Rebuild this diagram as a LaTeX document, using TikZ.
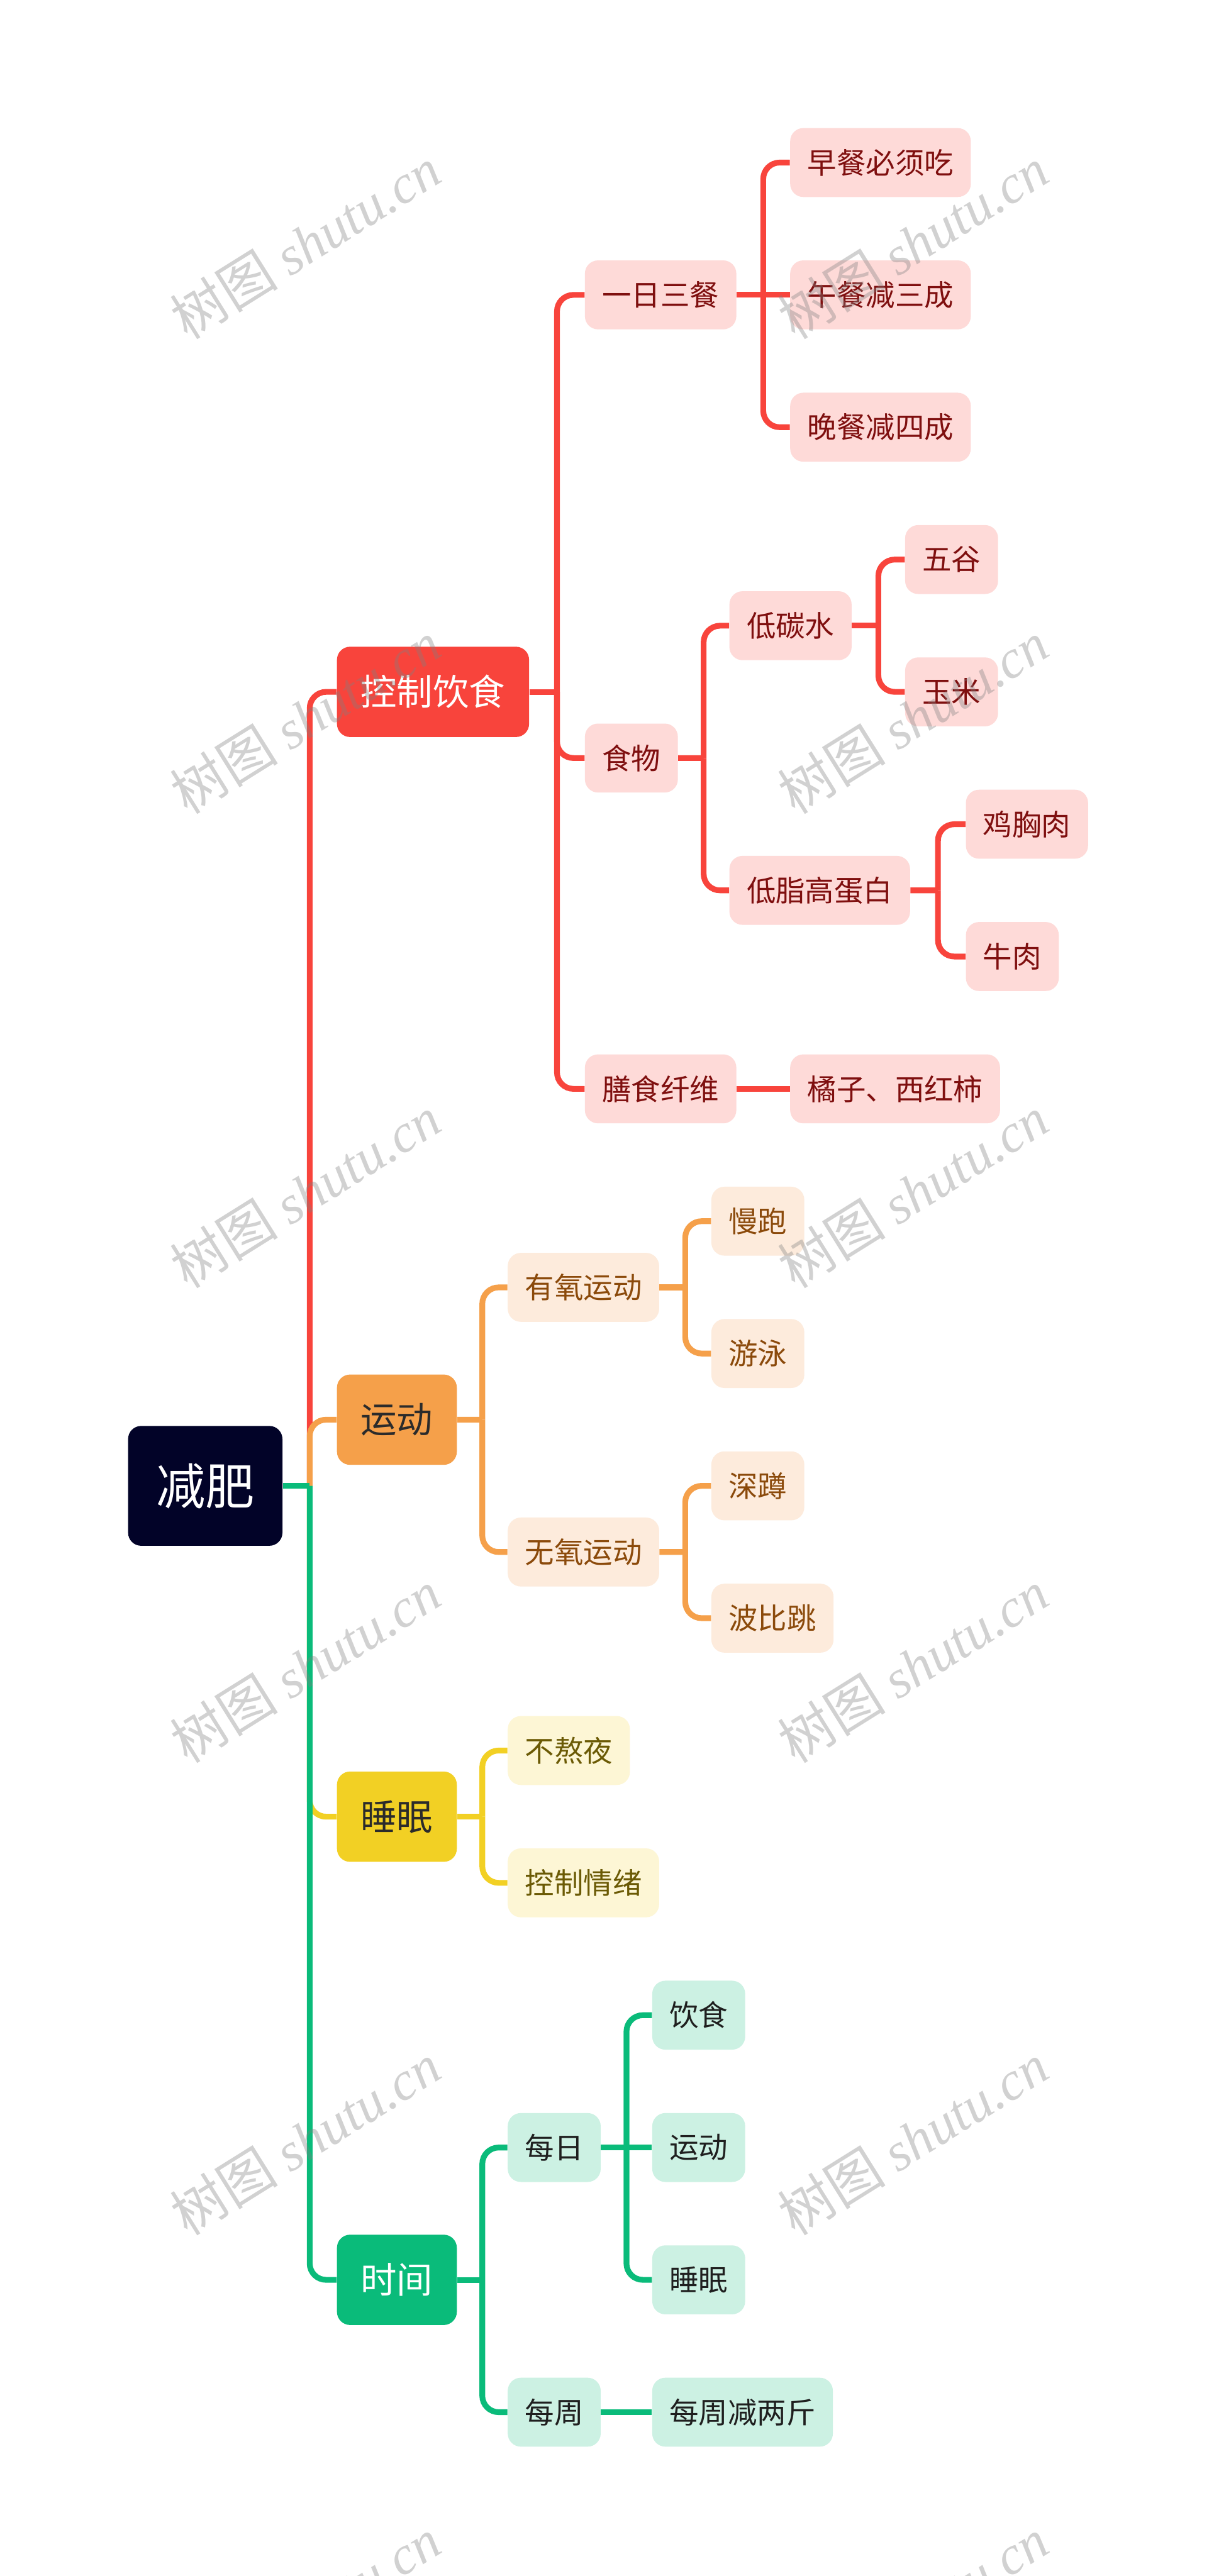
\documentclass[tikz,border=0pt]{standalone}
\usepackage{fontspec}
\setmainfont{Noto Sans CJK SC}
\newfontfamily\wmcjk{Noto Sans CJK SC}
\newfontfamily\wmlat{Liberation Serif}
\usetikzlibrary{calc}
\definecolor{rootc}{HTML}{020328}
\definecolor{redc}{HTML}{F8443C}
\definecolor{redl}{HTML}{FEDAD8}
\definecolor{redt}{HTML}{7F0F0F}
\definecolor{orgc}{HTML}{F5A04A}
\definecolor{orgl}{HTML}{FDEBDC}
\definecolor{orgt}{HTML}{8B4A0B}
\definecolor{yelc}{HTML}{F2D024}
\definecolor{yell}{HTML}{FDF6D5}
\definecolor{yelt}{HTML}{6B5A05}
\definecolor{grnc}{HTML}{0ABB7A}
\definecolor{grnl}{HTML}{CCF1E3}
\definecolor{grnt}{HTML}{1F1F1F}
\definecolor{darkt}{HTML}{2B2B2B}
\tikzset{
  rootbox/.style={fill=rootc, rounded corners=8pt, text=white, font=\fontsize{30}{36}\selectfont, minimum width=94pt, minimum height=73pt, inner sep=0pt},
  topbox/.style={rounded corners=8pt, font=\fontsize{22}{26}\selectfont, minimum height=55pt, inner xsep=14.5pt, inner ysep=0pt, anchor=west},
  subbox/.style={rounded corners=8pt, font=\fontsize{17.8}{21}\selectfont, minimum height=42pt, inner xsep=10.5pt, inner ysep=0pt, anchor=west},
  rsub/.style={subbox, fill=redl, text=redt},
  osub/.style={subbox, fill=orgl, text=orgt},
  ysub/.style={subbox, fill=yell, text=yelt},
  gsub/.style={subbox, fill=grnl, text=grnt},
  conn/.style={line width=3.5pt, rounded corners=10pt},
  wm/.style={text=gray, opacity=0.36, rotate=32, font=\fontsize{33}{36}\selectfont}
}
\begin{document}
\begin{tikzpicture}[x=1pt,y=-1pt]
\useasboundingbox (0,0) rectangle (739,1569);
\fill[white] (0,0) rectangle (739,1569);
% root
\node[rootbox] (root) at (125,905) {减肥};
% level 1
\node[topbox, fill=redc, text=white] (c1) at (205,421.4) {控制饮食};
\node[topbox, fill=orgc, text=darkt] (c2) at (205,864.7) {运动};
\node[topbox, fill=yelc, text=darkt] (c3) at (205,1106.5) {睡眠};
\node[topbox, fill=grnc, text=white] (c4) at (205,1388.6) {时间};
% red branch
\node[rsub] (a1) at (356,179.6) {一日三餐};
\node[rsub] (a2) at (356,461.7) {食物};
\node[rsub] (a3) at (356,663.2) {膳食纤维};
\node[rsub] (b1) at (481,99) {早餐必须吃};
\node[rsub] (b2) at (481,179.6) {午餐减三成};
\node[rsub] (b3) at (481,260.2) {晚餐减四成};
\node[rsub] (b4) at (444,381.1) {低碳水};
\node[rsub] (b5) at (444,542.3) {低脂高蛋白};
\node[rsub] (b6) at (481,663.2) {橘子、西红柿};
\node[rsub] (d1) at (551,340.8) {五谷};
\node[rsub] (d2) at (551,421.4) {玉米};
\node[rsub] (d3) at (588,502) {鸡胸肉};
\node[rsub] (d4) at (588,582.6) {牛肉};
% orange branch
\node[osub] (o1) at (309,784.1) {有氧运动};
\node[osub] (o2) at (309,945.3) {无氧运动};
\node[osub] (p1) at (433,743.8) {慢跑};
\node[osub] (p2) at (433,824.4) {游泳};
\node[osub] (p3) at (433,905) {深蹲};
\node[osub] (p4) at (433,985.6) {波比跳};
% yellow branch
\node[ysub] (y1) at (309,1066.2) {不熬夜};
\node[ysub] (y2) at (309,1146.8) {控制情绪};
% green branch
\node[gsub] (g1) at (309,1308) {每日};
\node[gsub] (g2) at (309,1469.2) {每周};
\node[gsub] (h1) at (397,1227.4) {饮食};
\node[gsub] (h2) at (397,1308) {运动};
\node[gsub] (h3) at (397,1388.6) {睡眠};
\node[gsub] (h4) at (397,1469.2) {每周减两斤};
% junctions
\coordinate (jr) at ($(root.east)!0.5!(c1.west |- root.east)$);
\coordinate (jc1) at ($(c1.east)!0.5!(a1.west |- c1.east)$);
\coordinate (jc2) at ($(c2.east)!0.5!(o1.west |- c2.east)$);
\coordinate (jc3) at ($(c3.east)!0.5!(y1.west |- c3.east)$);
\coordinate (jc4) at ($(c4.east)!0.5!(g1.west |- c4.east)$);
\coordinate (ja1) at ($(a1.east)!0.5!(b1.west |- a1.east)$);
\coordinate (ja2) at ($(a2.east)!0.5!(b4.west |- a2.east)$);
\coordinate (jb4) at ($(b4.east)!0.5!(d1.west |- b4.east)$);
\coordinate (jb5) at ($(b5.east)!0.5!(d3.west |- b5.east)$);
\coordinate (jo1) at ($(o1.east)!0.5!(p1.west |- o1.east)$);
\coordinate (jo2) at ($(o2.east)!0.5!(p3.west |- o2.east)$);
\coordinate (jg1) at ($(g1.east)!0.5!(h1.west |- g1.east)$);
% root connectors
\draw[conn, redc] (jr) |- (c1.west);
\draw[conn, orgc] (jr) |- (c2.west);
\draw[conn, yelc] (jr) |- (c3.west);
\draw[conn, grnc] (jr) |- (c4.west);
\draw[conn, grnc] (root.east) -- (jr);
% red
\draw[conn, redc] (c1.east) -- (jc1);
\draw[conn, redc] (jc1) |- (a1.west);
\draw[conn, redc] (jc1) |- (a2.west);
\draw[conn, redc] (jc1) |- (a3.west);
\draw[conn, redc] (a1.east) -- (ja1);
\draw[conn, redc] (ja1) |- (b1.west);
\draw[conn, redc] (ja1) -- (b2.west);
\draw[conn, redc] (ja1) |- (b3.west);
\draw[conn, redc] (a2.east) -- (ja2);
\draw[conn, redc] (ja2) |- (b4.west);
\draw[conn, redc] (ja2) |- (b5.west);
\draw[conn, redc] (a3.east) -- (b6.west);
\draw[conn, redc] (b4.east) -- (jb4);
\draw[conn, redc] (jb4) |- (d1.west);
\draw[conn, redc] (jb4) |- (d2.west);
\draw[conn, redc] (b5.east) -- (jb5);
\draw[conn, redc] (jb5) |- (d3.west);
\draw[conn, redc] (jb5) |- (d4.west);
% orange
\draw[conn, orgc] (c2.east) -- (jc2);
\draw[conn, orgc] (jc2) |- (o1.west);
\draw[conn, orgc] (jc2) |- (o2.west);
\draw[conn, orgc] (o1.east) -- (jo1);
\draw[conn, orgc] (jo1) |- (p1.west);
\draw[conn, orgc] (jo1) |- (p2.west);
\draw[conn, orgc] (o2.east) -- (jo2);
\draw[conn, orgc] (jo2) |- (p3.west);
\draw[conn, orgc] (jo2) |- (p4.west);
% yellow
\draw[conn, yelc] (c3.east) -- (jc3);
\draw[conn, yelc] (jc3) |- (y1.west);
\draw[conn, yelc] (jc3) |- (y2.west);
% green
\draw[conn, grnc] (c4.east) -- (jc4);
\draw[conn, grnc] (jc4) |- (g1.west);
\draw[conn, grnc] (jc4) |- (g2.west);
\draw[conn, grnc] (g1.east) -- (jg1);
\draw[conn, grnc] (jg1) |- (h1.west);
\draw[conn, grnc] (jg1) -- (h2.west);
\draw[conn, grnc] (jg1) |- (h3.west);
\draw[conn, grnc] (g2.east) -- (h4.west);
% watermarks
\foreach \i/\cx/\cy in {1/186/148, 2/556/148, 3/186/437, 4/556/437, 5/186/726, 6/556/726, 7/186/1015, 8/556/1015, 9/186/1303, 10/556/1303, 11/186/1592, 12/556/1592}{
  \node[wm] (wm\i) at (\cx,\cy) {\wmcjk 树图 \wmlat\itshape shutu.cn};
}
\end{tikzpicture}
\end{document}
